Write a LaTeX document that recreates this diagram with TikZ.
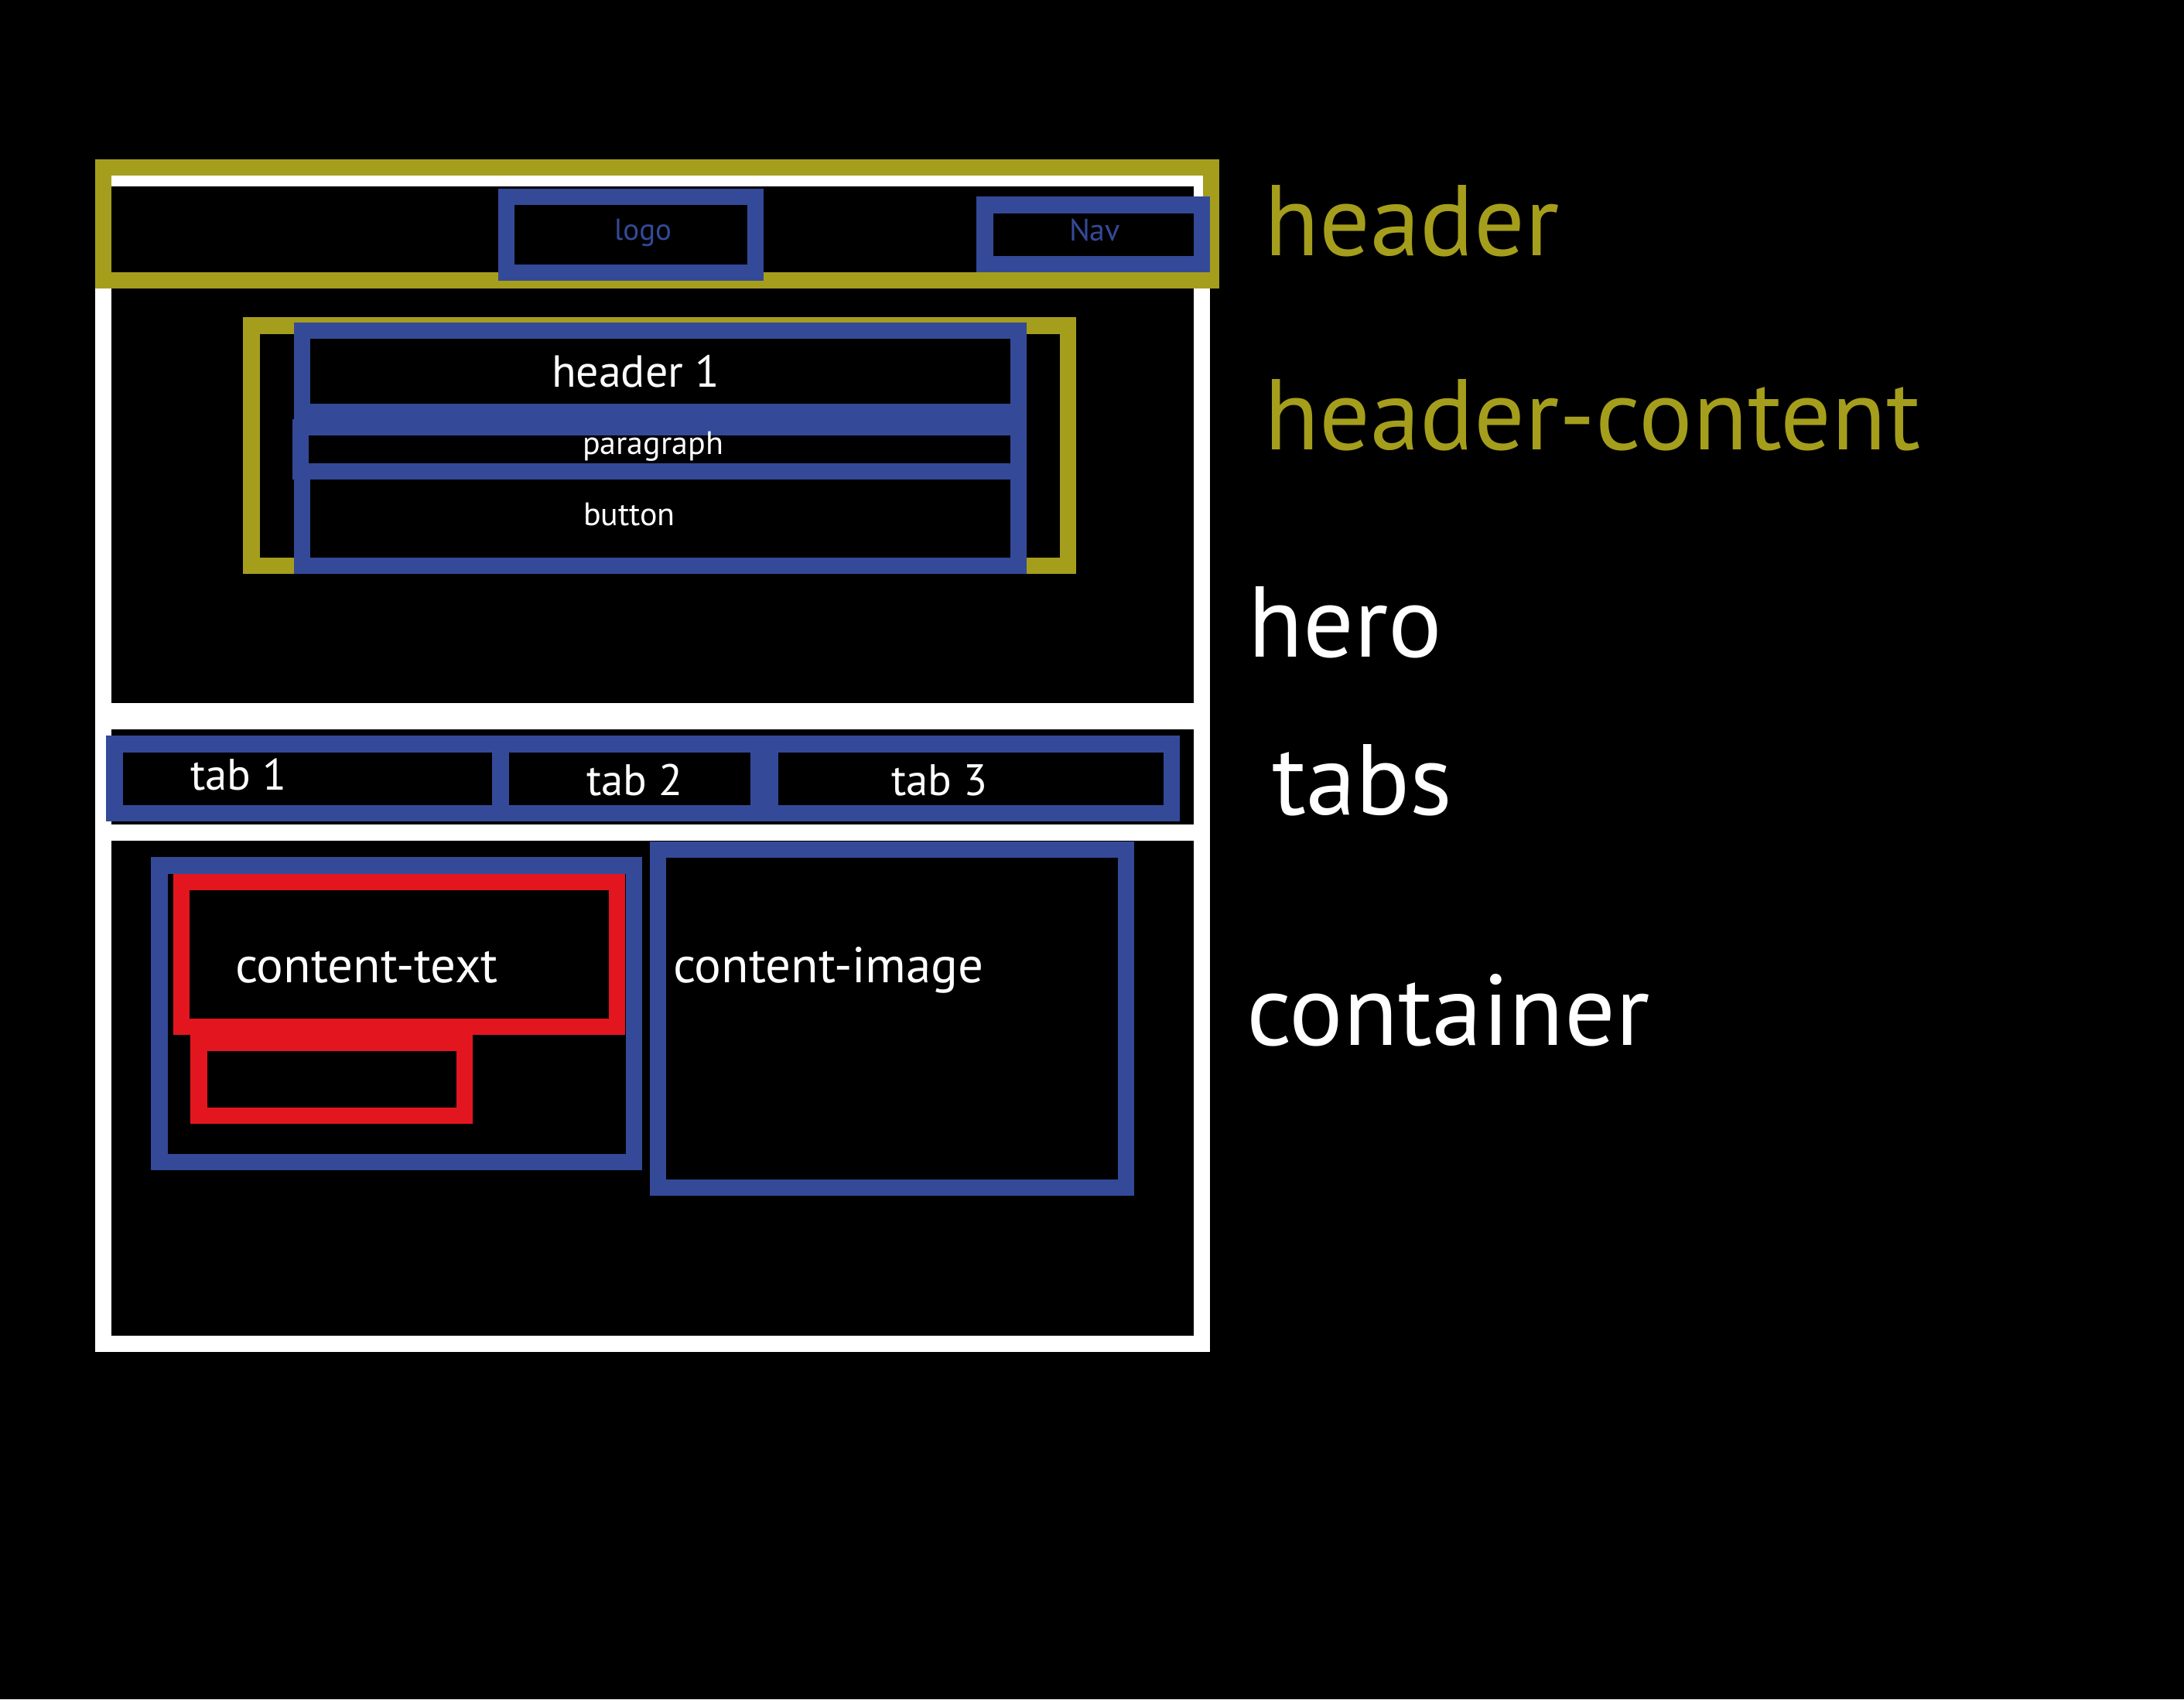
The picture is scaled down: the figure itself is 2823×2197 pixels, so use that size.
\documentclass[tikz,border=0pt]{standalone}
\usepackage{fontspec}
\setmainfont{PT Sans}
\definecolor{olivebar}{HTML}{A59E1C}
\definecolor{bluebox}{HTML}{344A98}
\definecolor{redbox}{HTML}{E3161F}
% outline box given by its outer edges: style, x1, y1, x2, y2, stroke
\newcommand{\outlinebox}[6]{%
  \draw[#1, line width=#6pt] ({#2+#6/2},{#3+#6/2}) rectangle ({#4-#6/2},{#5-#6/2});}
\tikzset{
  frame/.style={draw=white},
  olive/.style={draw=olivebar},
  blue/.style={draw=bluebox},
  red/.style={draw=redbox},
  lbl/.style={anchor=base west, inner sep=0pt, outer sep=0pt},
  fs/.style={font=\fontsize{#1pt}{#1pt}\selectfont},
}
\begin{document}
\begin{tikzpicture}[x=1pt,y=-1pt]
  \fill[black] (0,0) rectangle (2823,2197);
  \useasboundingbox (0,0) rectangle (2823,2197);

  % page sections
  \outlinebox{frame}{123}{220}{1564}{930}{21}
  \outlinebox{frame}{123}{922}{1564}{1087}{21}
  \outlinebox{frame}{123}{1066}{1564}{1748}{21}

  % header bar
  \outlinebox{olive}{123}{206}{1576}{373}{21}
  \outlinebox{blue}{644}{244}{987}{363}{21}
  \outlinebox{blue}{1262}{254}{1564}{352}{21.5}

  % hero content
  \outlinebox{olive}{314}{410}{1391}{742}{21.5}
  \outlinebox{blue}{380}{417}{1327}{543}{21}
  \outlinebox{blue}{380}{599}{1327}{742}{21}
  \outlinebox{blue}{378}{542}{1327}{620}{21}

  % tabs
  \outlinebox{blue}{137}{951}{657}{1062}{21.5}
  \outlinebox{blue}{636}{951}{991}{1062}{21.5}
  \outlinebox{blue}{984}{951}{1525}{1062}{21.5}

  % container content
  \outlinebox{blue}{195}{1108}{830}{1513}{21.5}
  \outlinebox{red}{224}{1130}{808}{1338}{21}
  \outlinebox{red}{246}{1337}{611}{1453}{21.5}
  \outlinebox{blue}{840}{1088}{1466}{1546}{21}

  % box labels
  \node[lbl, fs=39, text=bluebox] (logo) at (794,310) {logo};
  \node[lbl, fs=40, text=bluebox] (nav) at (1382,311) {Nav};
  \node[lbl, fs=58, text=white] (h1) at (713,500) {header 1};
  \node[lbl, fs=42, text=white] (para) at (753,587) {paragraph};
  \node[lbl, fs=42, text=white] (btn) at (754,679) {button};
  \node[lbl, fs=57, text=white] (tabA) at (246,1021) {tab 1};
  \node[lbl, fs=57, text=white] (tabB) at (758,1028) {tab 2};
  \node[lbl, fs=57, text=white] (tabC) at (1152,1028) {tab 3};
  \node[lbl, fs=65, text=white] (ctext) at (304,1270) {content-text};
  \node[lbl, fs=65, text=white] (cimage) at (870,1270) {content-image};

  % section names
  \node[lbl, fs=130, text=olivebar] (secheader) at (1634,330) {header};
  \node[lbl, fs=130, text=olivebar] (secheadercontent) at (1634,581) {header-content};
  \node[lbl, fs=130, text=white] (sechero) at (1613,849) {hero};
  \node[lbl, fs=130, text=white] (sectabs) at (1644,1053) {tabs};
  \node[lbl, fs=130, text=white] (seccontainer) at (1611,1351) {container};
\end{tikzpicture}
\end{document}
